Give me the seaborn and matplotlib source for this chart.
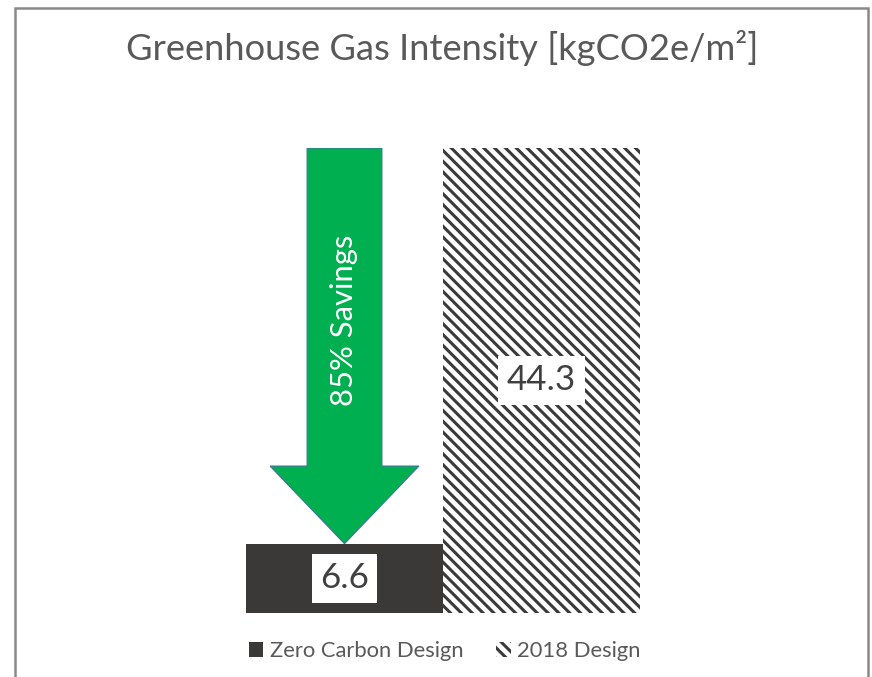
import matplotlib
matplotlib.use("Agg")
import matplotlib.pyplot as plt
import seaborn as sns
import pandas as pd
from matplotlib.patches import FancyArrow, Rectangle

categories = ["Zero Carbon Design", "2018 Design"]
values = [6.6, 44.3]
value_labels = ["6.6", "44.3"]
title = "Greenhouse Gas Intensity [kgCO2e/m²]"
arrow_text = "85% Savings"

DPI = 130
W, H = 872, 677
def px2pt(p):
    return p * 72.0 / DPI

sns.set_theme(style="white")
plt.rcParams['font.family'] = ['Lato', 'DejaVu Sans']
plt.rcParams['hatch.linewidth'] = 1.7

fig = plt.figure(figsize=(W / DPI, H / DPI), dpi=DPI)
fig.patch.set_facecolor("white")

ax = fig.add_axes([246 / W, (H - 613) / H, 394 / W, 465 / H])

df = pd.DataFrame({"design": categories, "value": values})
sns.barplot(data=df, x="design", y="value", hue="design",
            palette=["#3b3838", "white"], width=1.0, ax=ax,
            legend=False, saturation=1)

bars = ax.patches
bars[0].set_edgecolor("#3b3838")
bars[0].set_linewidth(0)
bars[1].set_facecolor("white")
bars[1].set_edgecolor("#3a3a3a")
bars[1].set_hatch("\\\\\\\\")
bars[1].set_linewidth(0)

ax.set_xlim(-0.5, 1.5)
ax.set_ylim(0, values[1])
ax.set_axis_off()

head_len = 7.4
arrow = FancyArrow(0, values[1], 0, values[0] - values[1],
                   width=0.38, head_width=0.756, head_length=head_len,
                   length_includes_head=True, facecolor="#00b050",
                   edgecolor="#41719c", linewidth=0.6, zorder=3)
ax.add_patch(arrow)
ax.text(0, (values[1] + values[0] + head_len) / 2 - 1.25, arrow_text,
        rotation=90, ha="center", va="center", color="white",
        fontsize=px2pt(31), zorder=4)

for i, (v, lab) in enumerate(zip(values, value_labels)):
    ax.text(i, v / 2, lab, ha="center", va="center", color="#404040",
            fontsize=px2pt(35), zorder=5,
            bbox=dict(boxstyle="square,pad=0.24", facecolor="white",
                      edgecolor="none"))

fig.text(0.507, (H - 48) / H, title, ha="center", va="center",
         color="#595959", fontsize=px2pt(36.3))

leg = fig.legend(handles=[bars[0], bars[1]], labels=categories,
                 loc="center", bbox_to_anchor=(0.51, (H - 651) / H),
                 ncol=2, frameon=False, handlelength=0.65, handleheight=0.65,
                 handletextpad=0.3, columnspacing=1.5,
                 fontsize=px2pt(22))
for t in leg.get_texts():
    t.set_color("#595959")

border = Rectangle((15 / W, -0.05), (868 - 15) / W, (H - 7.5) / H + 0.05,
                   transform=fig.transFigure, fill=False,
                   edgecolor="#898989", linewidth=px2pt(2.5))
fig.add_artist(border)

fig.savefig("out.png", dpi=DPI, facecolor="white")
